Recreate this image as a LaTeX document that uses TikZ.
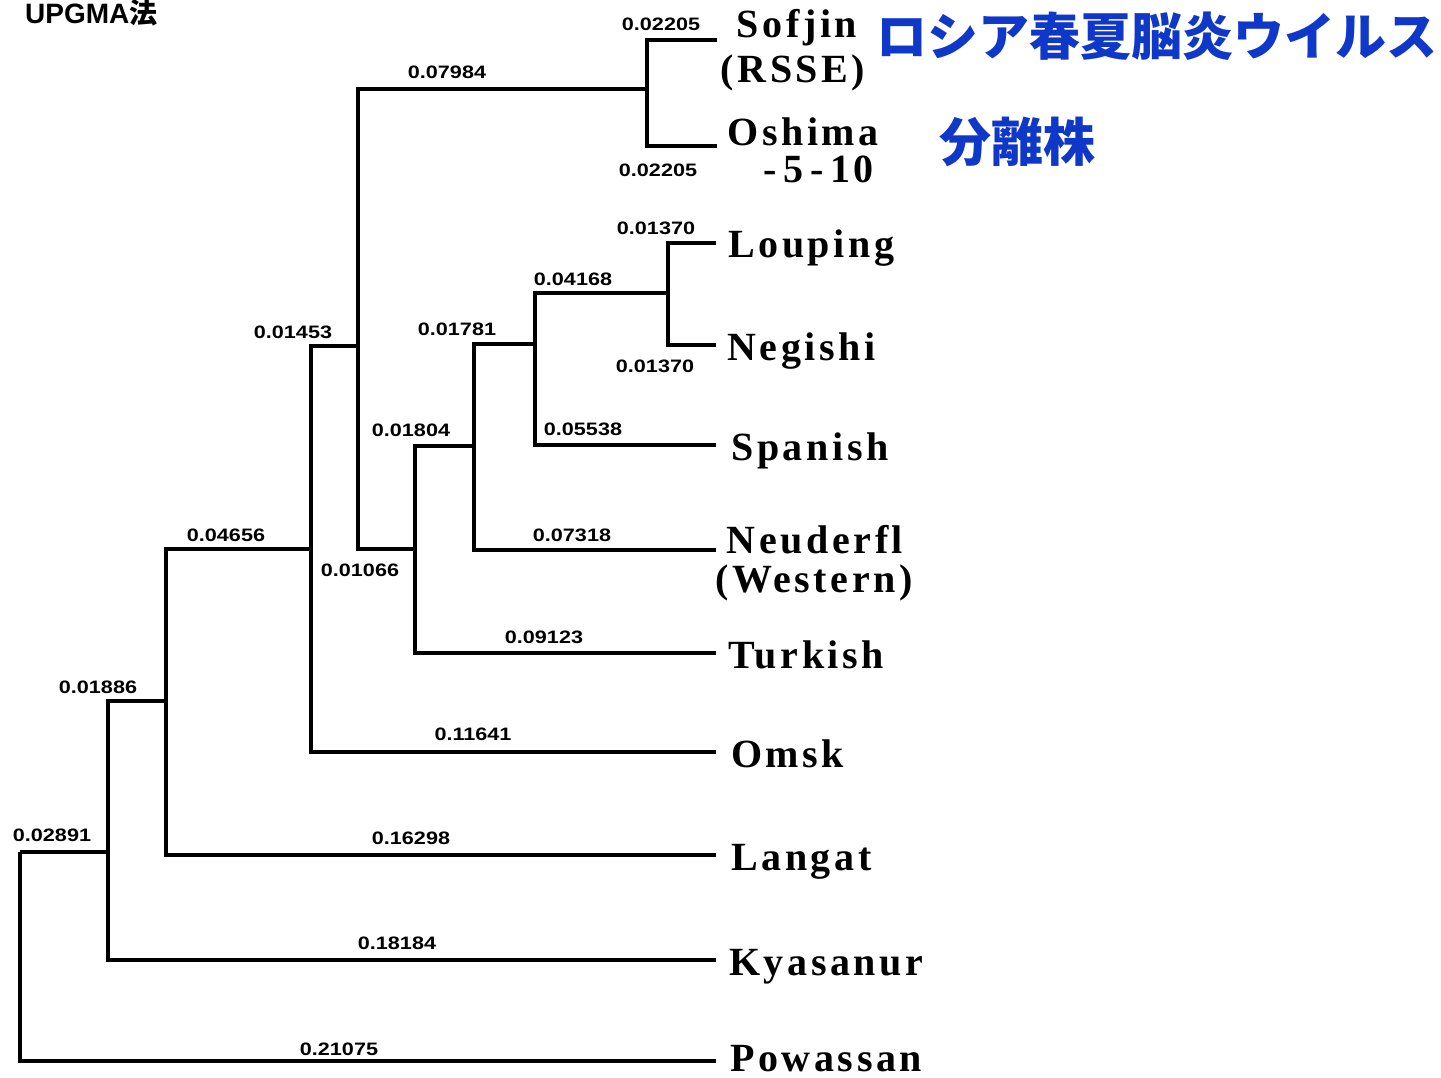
\documentclass[tikz,border=0pt]{standalone}
\usepackage{fontspec}
\setmainfont{Liberation Serif}
\newfontfamily\taxfont{Liberation Serif}[LetterSpace=9]
\newfontfamily\numfont{Liberation Sans}[FakeStretch=1.2]
\newfontfamily\titlefont{Liberation Sans}
\newfontfamily\jpfont{Noto Sans CJK JP}
\definecolor{jpblue}{RGB}{16,56,200}
\tikzset{
  branch/.style={line width=3.2pt, line join=miter, line cap=butt, black},
  tax/.style={font=\taxfont\bfseries\fontsize{40}{48}\selectfont, inner sep=0pt},
  num/.style={font=\numfont\bfseries\fontsize{18}{20}\selectfont, inner sep=0pt},
  jp/.style={font=\jpfont\bfseries\fontsize{51}{56}\selectfont, text=jpblue, inner sep=0pt},
}
\begin{document}
\begin{tikzpicture}[x=1pt,y=-1pt]
\useasboundingbox (0,0) rectangle (1441,1078);

% title
\node[anchor=base west, inner sep=0pt, font=\bfseries\fontsize{28}{30}\selectfont] (title) at (25,24) {{\titlefont UPGMA}{\jpfont 法}};

% internal nodes
\coordinate (nR) at (20,852);
\coordinate (n1) at (108,852);
\coordinate (n2) at (166,701);
\coordinate (n3) at (311,549);
\coordinate (n4) at (358,346);
\coordinate (n5) at (647,89);
\coordinate (n6) at (415,549);
\coordinate (n7) at (474,446);
\coordinate (n8) at (535,344);
\coordinate (n9) at (668,293);
% leaf tips
\coordinate (tSof) at (717,40);
\coordinate (tOsh) at (717,146);
\coordinate (tLou) at (716,243);
\coordinate (tNeg) at (716,345);
\coordinate (tSpa) at (716,445);
\coordinate (tNeu) at (716,550);
\coordinate (tTur) at (716,653);
\coordinate (tOms) at (716,752);
\coordinate (tLan) at (716,855);
\coordinate (tKya) at (716,960);
\coordinate (tPow) at (716,1061);

% branches
\draw[branch] (nR) |- (n1);
\draw[branch] (nR) |- (tPow);
\draw[branch] (n1) |- (n2);
\draw[branch] (n1) |- (tKya);
\draw[branch] (n2) |- (n3);
\draw[branch] (n2) |- (tLan);
\draw[branch] (n3) |- (n4);
\draw[branch] (n3) |- (tOms);
\draw[branch] (n4) |- (n5);
\draw[branch] (n4) |- (n6);
\draw[branch] (n5) |- (tSof);
\draw[branch] (n5) |- (tOsh);
\draw[branch] (n6) |- (n7);
\draw[branch] (n6) |- (tTur);
\draw[branch] (n7) |- (n8);
\draw[branch] (n7) |- (tNeu);
\draw[branch] (n8) |- (n9);
\draw[branch] (n8) |- (tSpa);
\draw[branch] (n9) |- (tLou);
\draw[branch] (n9) |- (tNeg);

% leaf labels
\node[tax, anchor=base] (Sofjin) at (797,38) {Sofjin};
\node[tax, anchor=base] (RSSE) at (793,83) {(RSSE)};
\node[tax, anchor=base east] (Oshima) at (879,146) {Oshima};
\node[tax, anchor=base east] (Oshima2) at (874,183) {-\,5\,-\,10};
\node[tax, anchor=base west] (Louping) at (728,258) {Louping};
\node[tax, anchor=base west] (Negishi) at (727,360) {Negishi};
\node[tax, anchor=base west] (Spanish) at (731,460) {Spanish};
\node[tax, anchor=base] (Neuderfl) at (815,553) {Neuderfl};
\node[tax, anchor=base] (Western) at (814,592) {(Western)};
\node[tax, anchor=base west] (Turkish) at (728,668) {Turkish};
\node[tax, anchor=base west] (Omsk) at (731,767) {Omsk};
\node[tax, anchor=base west] (Langat) at (731,870) {Langat};
\node[tax, anchor=base west] (Kyasanur) at (729,975) {Kyasanur};
\node[tax, anchor=base west] (Powassan) at (730,1071) {Powassan};

% branch lengths
\node[num] (b1) at (661,24) {0.02205};
\node[num] (b2) at (658,170) {0.02205};
\node[num] (b3) at (447,72) {0.07984};
\node[num] (b4) at (656,228) {0.01370};
\node[num] (b5) at (655,366) {0.01370};
\node[num] (b6) at (573,279) {0.04168};
\node[num] (b7) at (457,329) {0.01781};
\node[num] (b8) at (583,429) {0.05538};
\node[num] (b9) at (411,430) {0.01804};
\node[num] (b10) at (293,332) {0.01453};
\node[num] (b11) at (572,535) {0.07318};
\node[num] (b12) at (226,535) {0.04656};
\node[num] (b13) at (360,570) {0.01066};
\node[num] (b14) at (544,637) {0.09123};
\node[num] (b15) at (473,734) {0.11641};
\node[num] (b16) at (98,687) {0.01886};
\node[num] (b17) at (411,838) {0.16298};
\node[num] (b18) at (52,835) {0.02891};
\node[num] (b19) at (397,943) {0.18184};
\node[num] (b20) at (339,1049) {0.21075};

% Japanese annotation
\node[jp, anchor=west] (jp1) at (876,36) {ロシア春夏脳炎ウイルス};
\node[jp, anchor=west, font=\jpfont\bfseries\fontsize{52}{56}\selectfont] (jp2) at (939,142) {分離株};
\end{tikzpicture}
\end{document}
